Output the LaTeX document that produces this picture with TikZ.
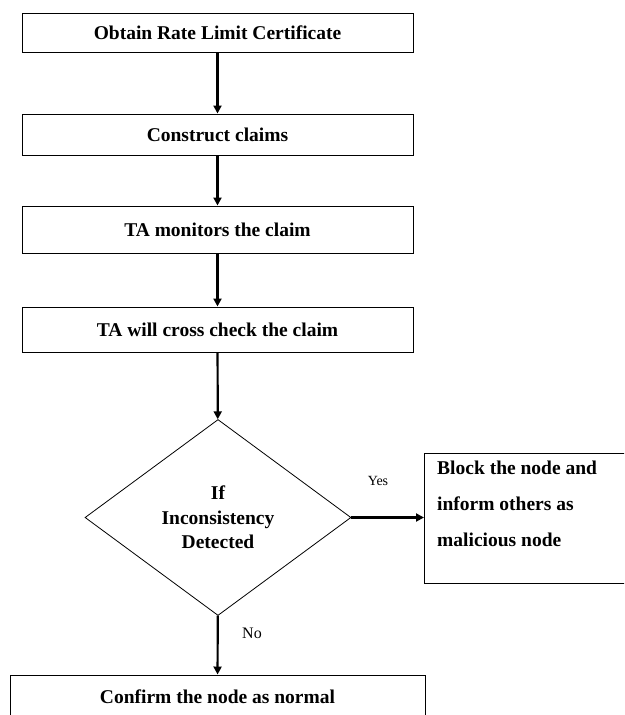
\documentclass[tikz,border=0pt]{standalone}
\usepackage{fontspec}
\setmainfont{Liberation Serif}
\usetikzlibrary{shapes.geometric,arrows.meta}
\begin{document}
\begin{tikzpicture}[x=1pt,y=-1pt,
  stepbox/.style={draw,line width=1pt,minimum width=391pt,font=\bfseries\fontsize{19.5}{22}\selectfont,inner sep=0pt},
  flow/.style={line width=2.2pt,-{Triangle[length=8pt,width=8pt]}},
  lbl/.style={font=\fontsize{14}{16}\selectfont,inner sep=0pt}]
\clip (0,0) rectangle (624,715);
\useasboundingbox (0,0) rectangle (624,715);
\node (cert) [stepbox,minimum height=39pt] at (217.5,32.5) {Obtain Rate Limit Certificate};
\node (claims) [stepbox,minimum height=41pt] at (217.5,134.5) {Construct claims};
\node (monitor) [stepbox,minimum height=47pt] at (217.5,229.5) {TA monitors the claim};
\node (check) [stepbox,minimum height=45pt] at (217.5,329.5) {TA will cross check the claim};
\node (test) [diamond,draw,line width=0.8pt,minimum width=266pt,minimum height=196pt,inner sep=0pt,
  align=center,font=\bfseries\fontsize{19.5}{24.5}\selectfont] at (218,517.5) {If\\Inconsistency\\Detected};
\node (block) [draw,line width=1pt,minimum width=206pt,minimum height=130pt,anchor=north west] at (424,453) {};
\node (blocktxt) [anchor=north west,align=left,inner sep=0pt,font=\bfseries\fontsize{19.5}{36}\selectfont] at (437,461)
  {Block the node and\\inform others as\\malicious node};
\node (normal) [stepbox,minimum width=415pt,minimum height=44pt] at (217.5,697) {Confirm the node as normal};
\draw [flow] (cert) -- (claims);
\draw [flow] (claims) -- (monitor);
\draw [flow] (monitor) -- (check);
\draw [flow] (check) -- (test);
\draw [flow] (test.east) -- (block.west |- test.east);
\draw [flow] (test) -- (normal);
\node (yes) [lbl] at (378,481) {Yes};
\node (no) [lbl,font=\fontsize{16}{18}\selectfont] at (252,633) {No};
\end{tikzpicture}
\end{document}
